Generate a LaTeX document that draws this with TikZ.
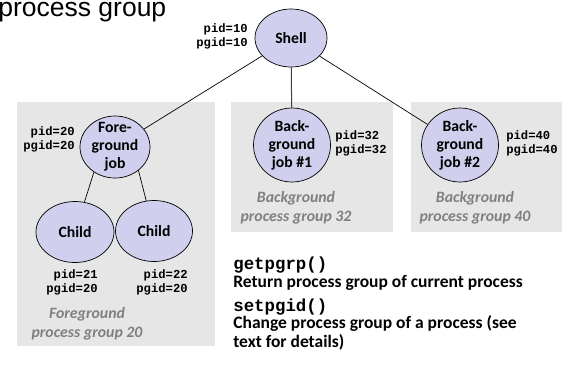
\documentclass[tikz,border=0pt]{standalone}
\usepackage{fontspec}
\setmainfont{Carlito}
\setmonofont{Liberation Mono}
\newfontfamily\titlefont{Liberation Sans}
\usetikzlibrary{shapes.geometric}

\definecolor{jobfill}{RGB}{208,208,238}
\definecolor{groupfill}{RGB}{230,230,230}
\definecolor{grouptext}{RGB}{128,128,128}

\tikzset{
	proc/.style={ellipse, draw, fill=jobfill, inner sep=-6pt, align=center,
		font=\bfseries\fontsize{15.7}{18}\selectfont},
	ids/.style={inner sep=0pt, font=\ttfamily\bfseries\fontsize{12.2}{14}\selectfont},
	grp/.style={inner sep=0pt, text=grouptext, align=center,
		font=\bfseries\itshape\fontsize{15.8}{19.5}\selectfont},
	call/.style={anchor=base west, inner sep=0pt,
		font=\ttfamily\bfseries\fontsize{17.4}{19}\selectfont},
	desc/.style={anchor=base west, inner sep=0pt,
		font=\bfseries\fontsize{17.5}{19}\selectfont},
}

\begin{document}
\begin{tikzpicture}[x=1pt, y=-1pt, line width=0.7pt]
	\useasboundingbox (0,0) rectangle (562,368);
	\fill[groupfill] (17,102) rectangle (215,346);
	\fill[groupfill] (231,102) rectangle (393,232);
	\fill[groupfill] (411,102) rectangle (562,232);

	\node[anchor=base west, inner sep=0pt,
		font=\titlefont\fontsize{26.5}{30}\selectfont] (title) at (-2,16.5) {process group};

	\node[proc, minimum width=72pt, minimum height=58pt] (sh) at (291,38) {Shell};
	\node[proc, minimum width=70pt, minimum height=62pt] (fg) at (115,147) {Fore-\\ground\\job};
	\node[proc, minimum width=77pt, minimum height=74pt] (bg1) at (292,145) {Back-\\ground\\job \#1};
	\node[proc, minimum width=77pt, minimum height=74pt] (bg2) at (460,145) {Back-\\ground\\job \#2};
	\node[proc, minimum width=78pt, minimum height=61pt] (c1) at (75,232) {Child};
	\node[proc, minimum width=77pt, minimum height=61pt] (c2) at (154,231) {Child};

	\draw (sh) -- (fg);
	\draw[line width=1pt, black!75] (sh) -- (bg1);
	\draw (sh) -- (bg2);
	\draw (fg.230) -- (c1);
	\draw (fg.315) -- (c2);

	\node[ids, align=right, anchor=east] (shid) at (248,36) {pid=10\\pgid=10};
	\node[ids, align=right, anchor=east] (fgid) at (75,139) {pid=20\\pgid=20};
	\node[ids, align=left, anchor=west] (bg1id) at (335,143) {pid=32\\pgid=32};
	\node[ids, align=left, anchor=west] (bg2id) at (506,143) {pid=40\\pgid=40};
	\node[ids, align=right, anchor=east] (c1id) at (98,282) {pid=21\\pgid=20};
	\node[ids, align=right, anchor=east] (c2id) at (188,282) {pid=22\\pgid=20};

	\node[grp] (fggrp) at (87,324) {Foreground\\process group 20};
	\node[grp] (bg1grp) at (296,208) {Background\\process group 32};
	\node[grp] (bg2grp) at (475,208) {Background\\process group 40};

	\node[call] (getp) at (233,269) {getpgrp()};
	\node[desc] (getpdesc) at (233,287) {Return process group of current process};
	\node[call] (setp) at (233,311) {setpgid()};
	\node[desc] (setpdesc) at (233,328) {Change process group of a process (see};
	\node[desc] (setpmore) at (233,347) {text for details)};
\end{tikzpicture}
\end{document}
